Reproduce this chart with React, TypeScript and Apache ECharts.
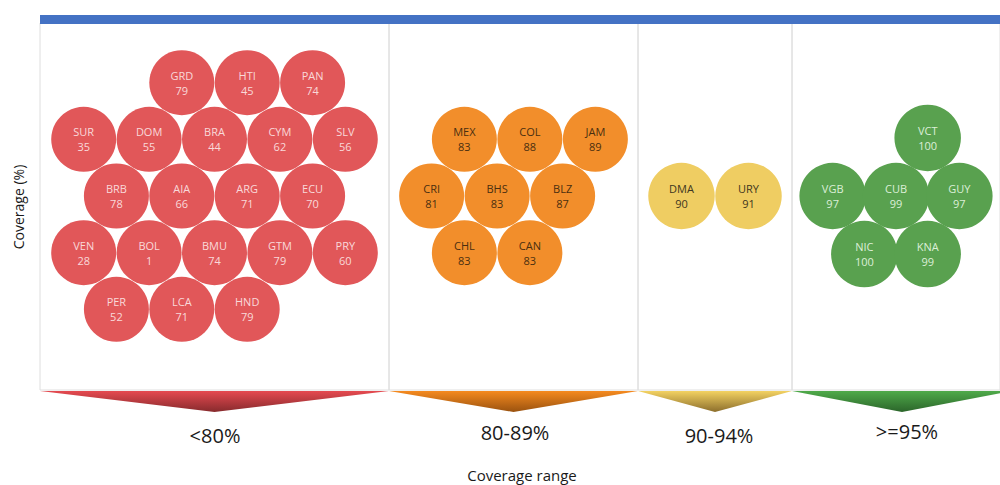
import React, { useEffect, useRef } from "react";
import * as echarts from "echarts";

// ---- data ----
const groups = ["<80%", "80-89%", "90-94%", ">=95%"];
const codes = [
  "GRD", "HTI", "PAN", "SUR", "DOM", "BRA", "CYM", "SLV", "BRB", "AIA", "ARG", "ECU",
  "VEN", "BOL", "BMU", "GTM", "PRY", "PER", "LCA", "HND",
  "MEX", "COL", "JAM", "CRI", "BHS", "BLZ", "CHL", "CAN",
  "DMA", "URY",
  "VCT", "VGB", "CUB", "GUY", "NIC", "KNA",
];
const coverage = [
  79, 45, 74, 35, 55, 44, 62, 56, 78, 66, 71, 70,
  28, 1, 74, 79, 60, 52, 71, 79,
  83, 88, 89, 81, 83, 87, 83, 83,
  90, 91,
  100, 97, 99, 97, 100, 99,
];
const groupIndex = [
  0, 0, 0, 0, 0, 0, 0, 0, 0, 0, 0, 0,
  0, 0, 0, 0, 0, 0, 0, 0,
  1, 1, 1, 1, 1, 1, 1, 1,
  2, 2,
  3, 3, 3, 3, 3, 3,
];
// packed-bubble hex cells (doubled-width columns, rows)
const hexCol = [
  -1, 1, 3, -4, -2, 0, 2, 4, -3, -1, 1, 3,
  -4, -2, 0, 2, 4, -3, -1, 1,
  1, 3, 5, 0, 2, 4, 1, 3,
  0, 2,
  3, 0, 2, 4, 1, 3,
];
const hexRow = [
  0, 0, 0, 1, 1, 1, 1, 1, 2, 2, 2, 2,
  3, 3, 3, 3, 3, 4, 4, 4,
  0, 0, 0, 1, 1, 1, 2, 2,
  0, 0,
  0, 1, 1, 1, 2, 2,
];

// ---- layout / style ----
const edges = [40, 389, 638, 792, 1012];
const gridTop = 23;
const gridBottom = 390;
const clusterY = 196;
const halfStep = [32.7, 32.75, 33.5, 33.5];
const diam = [65, 65, 66.5, 66.5];
const fills = ["#E15759", "#F28E2B", "#EFCD62", "#59A14F"];
const textColors = ["#F9D9D9", "#4A2E10", "#3E3620", "#DCEFD8"];
const triTop = ["#E54A50", "#F58A1F", "#F3D262", "#4FAA4A"];
const triBottom = ["#872A2D", "#9A520F", "#8C6E2C", "#2B652A"];
const labelY = [435, 432, 435, 431];
const labelX = [215, 515, 719, 907];

export default function App() {
  const ref = useRef<HTMLDivElement>(null);
  useEffect(() => {
    if (!ref.current) return;
    const chart = echarts.init(ref.current, null, { renderer: "svg" });

    const grids: any[] = [];
    const xAxes: any[] = [];
    const yAxes: any[] = [];
    const series: any[] = [];
    const graphics: any[] = [];

    groups.forEach((g, gi) => {
      const left = edges[gi];
      const W = edges[gi + 1] - edges[gi];
      const step = halfStep[gi];
      const rowStep = step * Math.sqrt(3);
      const idx = codes.map((_, i) => i).filter((i) => groupIndex[i] === gi);
      const cols = idx.map((i) => hexCol[i]);
      const rows = idx.map((i) => hexRow[i]);
      const cc = (Math.min(...cols) + Math.max(...cols)) / 2;
      const rc = (Math.min(...rows) + Math.max(...rows)) / 2;

      grids.push({
        left,
        top: gridTop,
        width: W,
        height: gridBottom - gridTop,
        show: true,
        borderColor: "#dedede",
        borderWidth: 1,
        backgroundColor: "transparent",
      });
      xAxes.push({
        gridIndex: gi,
        type: "value",
        min: -W / 2 / step,
        max: W / 2 / step,
        show: false,
      });
      yAxes.push({
        gridIndex: gi,
        type: "value",
        inverse: true,
        min: -(clusterY - gridTop) / rowStep,
        max: (gridBottom - clusterY) / rowStep,
        show: false,
      });
      series.push({
        type: "scatter",
        name: g,
        xAxisIndex: gi,
        yAxisIndex: gi,
        symbol: "circle",
        symbolSize: diam[gi],
        itemStyle: { color: fills[gi], opacity: 1 },
        label: {
          show: true,
          position: "inside",
          color: textColors[gi],
          fontSize: 11,
          lineHeight: 15,
          fontFamily: "Open Sans",
          formatter: (p: any) => `${p.name}\n${p.value[2]}`,
        },
        emphasis: { disabled: true },
        data: idx.map((i) => ({
          name: codes[i],
          value: [hexCol[i] - cc, hexRow[i] - rc, coverage[i]],
        })),
      });

      // triangle marker under the panel
      graphics.push({
        type: "polygon",
        z: 5,
        shape: {
          points: [
            [left, gridBottom + 1],
            [left + W, gridBottom + 1],
            [left + W / 2, gridBottom + 22],
          ],
        },
        style: {
          fill: new echarts.graphic.LinearGradient(0, 0, 0, 1, [
            { offset: 0, color: triTop[gi] },
            { offset: 1, color: triBottom[gi] },
          ]),
        },
      });
      graphics.push({
        type: "text",
        z: 5,
        x: labelX[gi],
        y: labelY[gi],
        style: {
          text: g,
          fill: "#1a1a1a",
          font: '20px "Open Sans"',
          textAlign: "center",
          textVerticalAlign: "middle",
        },
      });
    });

    graphics.push({
      type: "rect",
      z: 10,
      shape: { x: 40, y: 15, width: 960, height: 9 },
      style: { fill: "#4472C4" },
    });
    graphics.push({
      type: "text",
      z: 5,
      x: 522,
      y: 475,
      style: {
        text: "Coverage range",
        fill: "#1a1a1a",
        font: '15px "Open Sans"',
        textAlign: "center",
        textVerticalAlign: "middle",
      },
    });
    graphics.push({
      type: "text",
      z: 5,
      x: 18,
      y: 207,
      rotation: Math.PI / 2,
      style: {
        text: "Coverage (%)",
        fill: "#1a1a1a",
        font: '14px "Open Sans"',
        textAlign: "center",
        textVerticalAlign: "middle",
      },
    });

    chart.setOption({
      animation: false,
      backgroundColor: "#ffffff",
      grid: grids,
      xAxis: xAxes,
      yAxis: yAxes,
      series,
      graphic: graphics,
    });
    return () => chart.dispose();
  }, []);
  return (
    <div
      ref={ref}
      style={{ position: "fixed", left: 0, top: 0, width: 1000, height: 485 }}
    />
  );
}
